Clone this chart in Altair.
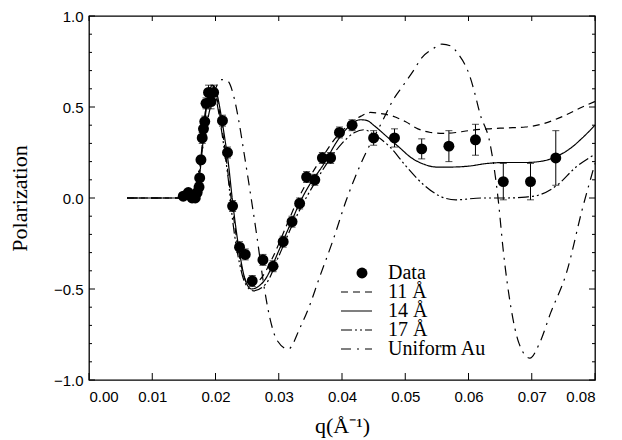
import altair as alt
import pandas as pd

# ---------------- data ----------------
q_data = [0.0149, 0.0157, 0.0163, 0.0168, 0.0171, 0.0174, 0.0175, 0.0177, 0.0179,
          0.0181, 0.0183, 0.0185, 0.0189, 0.0193, 0.0197, 0.0211, 0.0219, 0.0227,
          0.0238, 0.0247, 0.0258, 0.0275, 0.0291, 0.0307, 0.0321, 0.0333, 0.0344,
          0.0357, 0.0369, 0.0382, 0.0396, 0.0416, 0.0450, 0.0483, 0.0526, 0.0569,
          0.0611, 0.0655, 0.0698, 0.0738]
p_data = [0.01, 0.03, 0.00, 0.00, 0.03, 0.06, 0.11, 0.21, 0.33,
          0.38, 0.42, 0.52, 0.58, 0.53, 0.58, 0.425, 0.25, -0.044,
          -0.27, -0.31, -0.456, -0.34, -0.375, -0.24, -0.13, -0.03, 0.115,
          0.10, 0.22, 0.22, 0.36, 0.40, 0.33, 0.33, 0.27, 0.285,
          0.32, 0.09, 0.09, 0.22]
e_data = [0.01, 0.01, 0.01, 0.01, 0.01, 0.02, 0.02, 0.02, 0.03,
          0.03, 0.03, 0.03, 0.04, 0.04, 0.04, 0.03, 0.03, 0.03,
          0.03, 0.03, 0.03, 0.03, 0.03, 0.03, 0.03, 0.03, 0.03,
          0.03, 0.03, 0.03, 0.03, 0.03, 0.04, 0.05, 0.055, 0.085,
          0.085, 0.10, 0.10, 0.15]

q_11 = [0.006, 0.0145, 0.016, 0.017, 0.0175, 0.018, 0.0185, 0.019, 0.0193, 0.0198,
        0.0205, 0.021, 0.0215, 0.022, 0.0225, 0.023, 0.0235, 0.024, 0.0245, 0.0253,
        0.027, 0.029, 0.031, 0.033, 0.035, 0.037, 0.039, 0.041, 0.043, 0.0445,
        0.046, 0.048, 0.050, 0.052, 0.054, 0.056, 0.058, 0.060, 0.063, 0.066,
        0.069, 0.072, 0.075, 0.078, 0.080]
p_11 = [0.0, 0.0, 0.01, 0.07, 0.16, 0.33, 0.50, 0.60, 0.62, 0.60,
        0.50, 0.39, 0.27, 0.13, -0.01, -0.14, -0.26, -0.36, -0.43, -0.48,
        -0.45, -0.33, -0.17, -0.01, 0.12, 0.23, 0.33, 0.40, 0.45, 0.47,
        0.465, 0.45, 0.42, 0.38, 0.36, 0.355, 0.36, 0.37, 0.38, 0.385,
        0.39, 0.41, 0.45, 0.50, 0.53]

q_14 = [0.006, 0.0145, 0.016, 0.017, 0.0175, 0.018, 0.0185, 0.019, 0.0195, 0.020,
        0.0205, 0.021, 0.0215, 0.022, 0.0227, 0.0238, 0.0247, 0.0257, 0.027, 0.028,
        0.029, 0.030, 0.031, 0.032, 0.033, 0.034, 0.035, 0.036, 0.037, 0.038,
        0.039, 0.040, 0.041, 0.042, 0.043, 0.044, 0.045, 0.047, 0.049, 0.051,
        0.053, 0.055, 0.057, 0.060, 0.063, 0.066, 0.069, 0.072, 0.074, 0.076,
        0.078, 0.080]
p_14 = [0.0, 0.0, 0.01, 0.05, 0.13, 0.30, 0.48, 0.58, 0.62, 0.60,
        0.53, 0.43, 0.32, 0.20, -0.02, -0.30, -0.45, -0.50, -0.48, -0.44,
        -0.37, -0.29, -0.21, -0.13, -0.05, 0.02, 0.08, 0.13, 0.18, 0.24,
        0.30, 0.35, 0.39, 0.42, 0.43, 0.425, 0.40, 0.34, 0.28, 0.22,
        0.185, 0.17, 0.17, 0.175, 0.19, 0.195, 0.195, 0.205, 0.23, 0.27,
        0.33, 0.40]

q_17 = [0.006, 0.0145, 0.016, 0.017, 0.0175, 0.018, 0.0185, 0.019, 0.0195, 0.020,
        0.0205, 0.021, 0.0215, 0.022, 0.0227, 0.0238, 0.0247, 0.026, 0.028, 0.030,
        0.032, 0.034, 0.036, 0.038, 0.040, 0.042, 0.0435, 0.045, 0.0476, 0.050,
        0.053, 0.0555, 0.058, 0.062, 0.066, 0.069, 0.071, 0.074, 0.077, 0.080]
p_17 = [0.0, 0.0, 0.01, 0.06, 0.15, 0.33, 0.50, 0.59, 0.60, 0.56,
        0.47, 0.36, 0.24, 0.11, -0.12, -0.36, -0.47, -0.51, -0.47, -0.32,
        -0.16, -0.02, 0.10, 0.21, 0.30, 0.36, 0.375, 0.35, 0.28, 0.18,
        0.07, 0.01, -0.01, 0.0, 0.0, 0.005, 0.015, 0.07, 0.17, 0.24]

q_au = [0.006, 0.0145, 0.016, 0.017, 0.018, 0.019, 0.020, 0.021, 0.022, 0.0228,
        0.0236, 0.0245, 0.0255, 0.0265, 0.0276, 0.0286, 0.0297, 0.0315, 0.0334, 0.035,
        0.0362, 0.0386, 0.0407, 0.043, 0.0465, 0.0481, 0.0497, 0.0513, 0.0526, 0.0544,
        0.0558, 0.0572, 0.0584, 0.0602, 0.061, 0.0618, 0.0634, 0.0647, 0.0655, 0.0667,
        0.068, 0.0697, 0.0712, 0.073, 0.0755, 0.078, 0.080]
p_au = [0.0, 0.0, 0.02, 0.09, 0.28, 0.47, 0.60, 0.65, 0.64, 0.57,
        0.44, 0.25, 0.03, -0.20, -0.47, -0.66, -0.78, -0.83, -0.71, -0.58,
        -0.46, -0.23, -0.01, 0.19, 0.43, 0.54, 0.62, 0.70, 0.77, 0.82,
        0.846, 0.835, 0.79, 0.67, 0.575, 0.465, 0.30, -0.01, -0.29, -0.60,
        -0.80, -0.88, -0.80, -0.63, -0.41, -0.06, 0.19]

x_ticks = [0.00, 0.01, 0.02, 0.03, 0.04, 0.05, 0.06, 0.07, 0.08]
y_major = [-1.0, -0.5, 0.0, 0.5, 1.0]
y_minor = [-0.9, -0.8, -0.7, -0.6, -0.4, -0.3, -0.2, -0.1,
           0.1, 0.2, 0.3, 0.4, 0.6, 0.7, 0.8, 0.9]

legend_labels = ["Data", "11 Å", "14 Å", "17 Å", "Uniform Au"]

# ---------------- chart ----------------
W, H = 506, 364
SERIF = "Liberation Serif"
SANS = "Liberation Sans"

xs = alt.Scale(domain=[0, 0.08], nice=False, zero=False)
ys = alt.Scale(domain=[-1, 1], nice=False, zero=False)
xaxis = alt.Axis(values=x_ticks, format=".2f", title="q(Å⁻¹)", grid=False, ticks=False,
                 domain=False, labelFont=SANS, labelFontSize=15, labelColor="black",
                 labelPadding=9, titleFont=SERIF, titleFontSize=22, titleFontWeight="normal",
                 titleColor="black", titlePadding=11)
yaxis = alt.Axis(values=y_major, format=".1f", title="Polarization", grid=False, ticks=False,
                 domain=False, labelFont=SANS, labelFontSize=15, labelColor="black",
                 labelPadding=6, titleFont=SERIF, titleFontSize=22, titleFontWeight="normal",
                 titleColor="black", titlePadding=22)

def X(field="q"):
    return alt.X(f"{field}:Q", scale=xs, axis=xaxis)

def Y(field="P"):
    return alt.Y(f"{field}:Q", scale=ys, axis=yaxis)

df_data = pd.DataFrame({"q": q_data, "P": p_data, "e": e_data})
df_data["lo"] = df_data["P"] - df_data["e"]
df_data["hi"] = df_data["P"] + df_data["e"]

def curve(qv, pv, dash):
    return alt.Chart(pd.DataFrame({"q": qv, "P": pv})).mark_line(
        color="black", strokeWidth=1.2, strokeDash=dash, interpolate="monotone"
    ).encode(x=X(), y=Y())

dash11 = [7, 5]
dash14 = [1, 0]
dash17 = [11, 3, 2, 3, 2, 3]
dashau = [10, 6, 2, 6]

c11 = curve(q_11, p_11, dash11)
c14 = curve(q_14, p_14, dash14)
c17 = curve(q_17, p_17, dash17)
cau = curve(q_au, p_au, dashau)

bars = alt.Chart(df_data).mark_rule(color="black", strokeWidth=1).encode(
    x=X(), y=Y("lo"), y2="hi")
cap_hi = alt.Chart(df_data).mark_tick(color="black", orient="horizontal", size=7, thickness=1).encode(
    x=X(), y=Y("hi"))
cap_lo = alt.Chart(df_data).mark_tick(color="black", orient="horizontal", size=7, thickness=1).encode(
    x=X(), y=Y("lo"))
pts = alt.Chart(df_data).mark_point(filled=True, color="black", opacity=1, size=120).encode(
    x=X(), y=Y())

# inward ticks on all four sides
xt = pd.DataFrame({"q": x_ticks})
ymaj = pd.DataFrame({"P": y_major})
ymin = pd.DataFrame({"P": y_minor})
tick_b = alt.Chart(xt).mark_rule(color="black", strokeWidth=1).encode(
    x=X(), y=alt.value(H), y2=alt.value(H - 7))
tick_t = alt.Chart(xt).mark_rule(color="black", strokeWidth=1).encode(
    x=X(), y=alt.value(0), y2=alt.value(5))
tick_l = alt.Chart(ymaj).mark_rule(color="black", strokeWidth=1).encode(
    y=Y(), x=alt.value(0), x2=alt.value(6))
tick_lm = alt.Chart(ymin).mark_rule(color="black", strokeWidth=1).encode(
    y=Y(), x=alt.value(0), x2=alt.value(3))
tick_r = alt.Chart(ymaj).mark_rule(color="black", strokeWidth=1).encode(
    y=Y(), x=alt.value(W), x2=alt.value(W - 6))
tick_rm = alt.Chart(ymin).mark_rule(color="black", strokeWidth=1).encode(
    y=Y(), x=alt.value(W), x2=alt.value(W - 3))

# manual legend
leg_layers = []
row_y = [257, 276, 295, 314, 333]
lx0, lx1, tx = 252, 283, 299
one = pd.DataFrame({"k": [0]})
leg_layers.append(alt.Chart(one).mark_point(filled=True, color="black", opacity=1, size=120).encode(
    x=alt.value(273), y=alt.value(row_y[0])))
for dash, ry in zip([dash11, dash14, dash17, dashau], row_y[1:]):
    leg_layers.append(alt.Chart(one).mark_rule(color="black", strokeWidth=1.2, strokeDash=dash).encode(
        x=alt.value(lx0), x2=alt.value(lx1), y=alt.value(ry)))
for lab, ry in zip(legend_labels, row_y):
    leg_layers.append(alt.Chart(pd.DataFrame({"t": [lab]})).mark_text(
        align="left", baseline="middle", font=SERIF, fontSize=20, color="black").encode(
        x=alt.value(tx), y=alt.value(ry), text="t:N"))

chart = alt.layer(
    tick_b, tick_t, tick_l, tick_lm, tick_r, tick_rm,
    c11, c14, c17, cau, bars, cap_hi, cap_lo, pts, *leg_layers
).properties(
    width=W, height=H,
    autosize=alt.AutoSizeParams(type="none"),
    padding={"left": 89, "top": 16, "right": 27, "bottom": 60},
    background="white",
).configure_view(stroke="black", strokeWidth=1.3)

chart.save("out.html", embed_options={"renderer": "svg", "actions": False})
